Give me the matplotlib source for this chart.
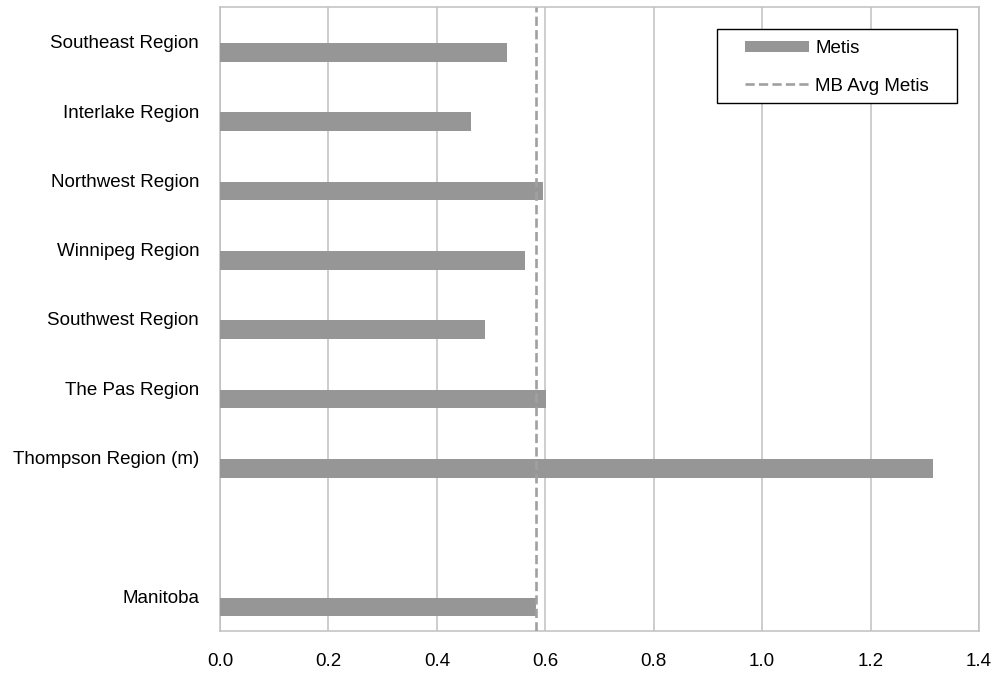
import matplotlib.pyplot as plt
import numpy as np
from matplotlib.patches import Rectangle

regions = ['Southeast Region', 'Interlake Region', 'Northwest Region', 'Winnipeg Region',
           'Southwest Region', 'The Pas Region', 'Thompson Region (m)', '', 'Manitoba']
metis = [0.530, 0.463, 0.595, 0.563, 0.489, 0.602, 1.315, np.nan, 0.582]
mb_avg = 0.582
xticks = [0.0, 0.2, 0.4, 0.6, 0.8, 1.0, 1.2, 1.4]

plt.rcParams['font.family'] = ['Liberation Sans', 'DejaVu Sans']
fs = 13.5

fig = plt.figure(figsize=(9.95, 6.75), dpi=100)
ax = fig.add_axes([220/995, 44/675, 759/995, 624/675])

pos = np.arange(len(regions))
bars = ax.barh(pos + 0.155, metis, height=0.27, color='#969696', label='Metis', zorder=3)
avg = ax.axvline(mb_avg, color='#a0a0a0', lw=1.9, dashes=(3.5, 1.6), label='MB Avg Metis', zorder=4)

ax.set_xlim(0, 1.4)
ax.set_ylim(len(regions) - 0.5, -0.5)
ax.set_xticks(xticks)
ax.set_xticklabels(['%.1f' % t for t in xticks], fontsize=fs)
ax.set_yticks(pos)
ax.set_yticklabels(regions, fontsize=fs)
ax.tick_params(length=0)
ax.tick_params(axis='x', pad=16)
ax.tick_params(axis='y', pad=15)
ax.grid(axis='x', color='#c0c0c0', lw=1.1, zorder=0)
for s in ax.spines.values():
    s.set_color('#c0c0c0')
    s.set_linewidth(1.1)

leg = fig.legend([bars, avg], ['Metis', 'MB Avg Metis'], loc='upper left',
                 bbox_to_anchor=(745/995, 1 - 40/675), frameon=False,
                 fontsize=fs, handlelength=3.4, handleheight=0.55, handletextpad=0.35,
                 labelspacing=1.1, borderpad=0, borderaxespad=0)
fig.add_artist(Rectangle((717/995, 1 - 103/675), 240/995, 74/675, transform=fig.transFigure,
                         facecolor='white', edgecolor='black', lw=1.0, zorder=5))
leg.set_zorder(6)

fig.savefig('out.png', dpi=100)
